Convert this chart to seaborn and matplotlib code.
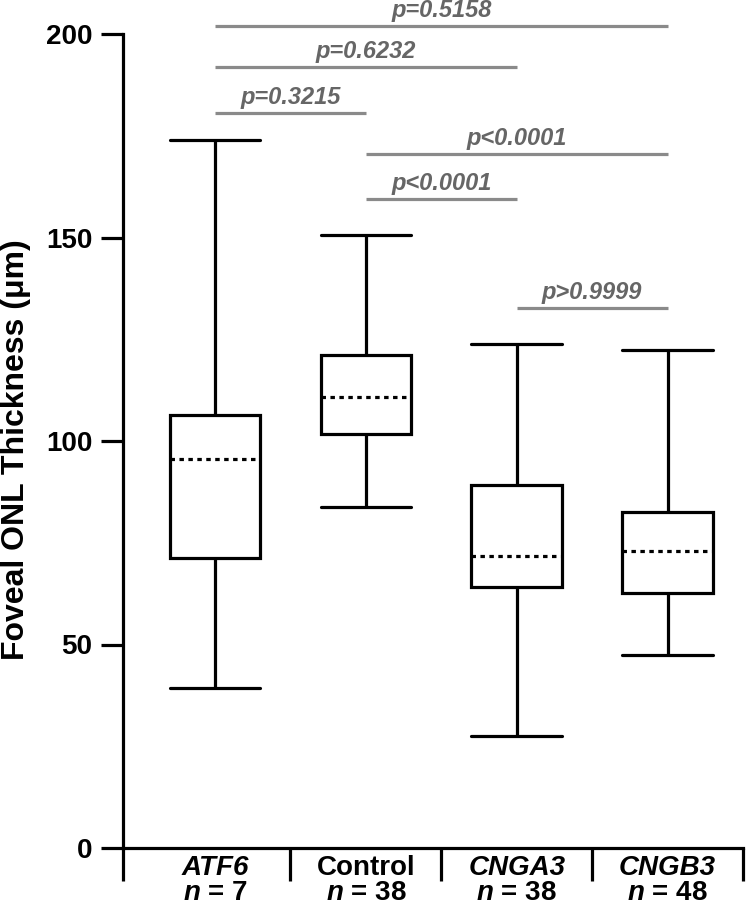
import numpy as np
import pandas as pd
import matplotlib
matplotlib.use("Agg")
import matplotlib.pyplot as plt
import matplotlib.transforms as mtransforms
import seaborn as sns

# ---- data ----
groups = ["ATF6", "Control", "CNGA3", "CNGB3"]
italic_name = [True, False, True, True]
n_counts = [7, 38, 38, 48]
lo = [39.3, 83.8, 27.5, 47.4]
q1 = [71.3, 101.7, 64.1, 62.7]
med = [95.6, 110.8, 71.7, 73.0]
q3 = [106.4, 121.1, 89.2, 82.6]
hi = [174.0, 150.7, 123.8, 122.4]

comp_a = [0, 0, 0, 1, 1, 2]
comp_b = [3, 2, 1, 3, 2, 3]
comp_y = [202.0, 191.9, 180.6, 170.5, 159.5, 132.7]
comp_p = ["p=0.5158", "p=0.6232", "p=0.3215", "p<0.0001", "p<0.0001", "p>0.9999"]

yticks = [0, 50, 100, 150, 200]

# five-number summaries -> rows for seaborn (quartiles of 5 points = q1/med/q3)
rows = []
for g, a, b, c, d, e in zip(groups, lo, q1, med, q3, hi):
    for v in (a, b, c, d, e):
        rows.append({"group": g, "value": v})
df = pd.DataFrame(rows)

sns.set_theme(style="ticks")
plt.rcParams["font.family"] = ["Liberation Sans", "DejaVu Sans"]
plt.rcParams["font.weight"] = "bold"
plt.rcParams["text.color"] = "black"
plt.rcParams["axes.labelcolor"] = "black"
plt.rcParams["xtick.color"] = "black"
plt.rcParams["ytick.color"] = "black"
plt.rcParams["mathtext.fontset"] = "custom"
plt.rcParams["mathtext.it"] = "Liberation Sans:italic:bold"
plt.rcParams["mathtext.rm"] = "Liberation Sans:bold"
plt.rcParams["mathtext.bf"] = "Liberation Sans:bold"

fig = plt.figure(figsize=(7.46, 9.06), dpi=100)
AX_H = 814
ax = fig.add_axes([123 / 746, 58 / 906, 620 / 746, AX_H / 906])

LW = 2.3
sns.boxplot(
    data=df, x="group", y="value", order=groups, ax=ax,
    whis=(0, 100), width=0.6, color="white", linecolor="black",
    linewidth=LW, fliersize=0, capwidths=0.6,
    medianprops=dict(linestyle=(0, (1.4, 1.4)), linewidth=LW, color="black"),
)

ax.set_xlim(-0.61, 3.5)
ax.set_ylim(0, 200)
for s in ("top", "right"):
    ax.spines[s].set_visible(False)
for s in ("left", "bottom"):
    ax.spines[s].set_linewidth(LW)
    ax.spines[s].set_color("black")

ax.set_yticks(yticks)
ax.set_yticklabels([str(t) for t in yticks], fontsize=20, fontweight="bold", color="black")
ax.tick_params(axis="y", length=16, width=LW, color="black", pad=6)

ax.set_xticks(range(len(groups)))
ax.set_xticklabels([""] * len(groups))
ax.tick_params(axis="x", which="major", length=0)
ax.set_xticks([-0.61, 0.5, 1.5, 2.5, 3.5], minor=True)
ax.tick_params(axis="x", which="minor", length=24, width=LW, color="black", direction="out")
ax.set_xlabel("")
ax.set_ylabel("")

trans = mtransforms.blended_transform_factory(ax.transData, ax.transAxes)
for i, (g, it, n) in enumerate(zip(groups, italic_name, n_counts)):
    ax.text(i, -27 / AX_H, g, transform=trans, ha="center", va="baseline",
            fontsize=20, fontweight="bold", fontstyle="italic" if it else "normal",
            color="black", clip_on=False)
    ax.text(i, -52 / AX_H, f"$n$ = {n}", transform=trans, ha="center", va="baseline",
            fontsize=20, fontweight="bold", color="black", clip_on=False)

ax.text(-107 / 620, 0.49, "Foveal ONL Thickness (\u03bcm)", transform=ax.transAxes,
        rotation=90, ha="center", va="center", fontsize=23, fontweight="bold",
        color="black")

for a, b, y, p in zip(comp_a, comp_b, comp_y, comp_p):
    ax.plot([a, b], [y, y], color="#8a8a8a", linewidth=LW, clip_on=False,
            solid_capstyle="butt")
    ax.text((a + b) / 2, y + 2.2, p, ha="center", va="baseline", fontsize=17,
            fontweight="bold", fontstyle="italic", color="#666666", clip_on=False)

fig.savefig("out.png", dpi=100)
